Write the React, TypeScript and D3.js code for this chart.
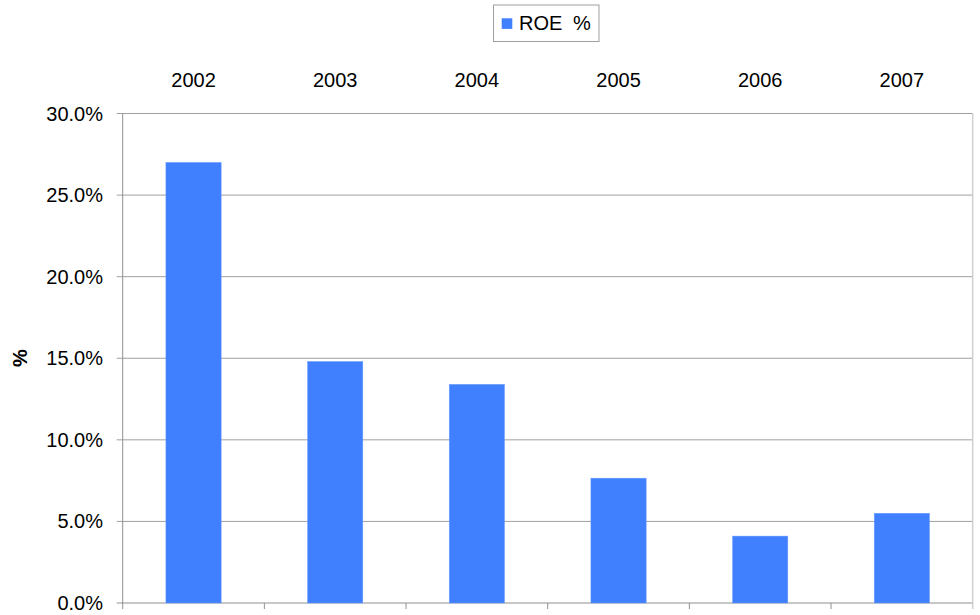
import React from "react";
import * as d3 from "d3";

const categories = ["2002", "2003", "2004", "2005", "2006", "2007"];
const roeValues = [27.0, 14.8, 13.4, 7.65, 4.1, 5.5];
const yTicks = [0, 5, 10, 15, 20, 25, 30];
const seriesName = "ROE %";

export default function App() {
  const W = 980, H = 615;
  const left = 122.7, right = 972.7, top = 113.5, bottom = 603;
  const x = d3.scaleBand<string>().domain(categories).range([left, right]).paddingInner(0.61).paddingOuter(0.305);
  const xb = d3.scaleBand<string>().domain(categories).range([left, right]);
  const y = d3.scaleLinear().domain([0, 30]).range([bottom, top]);
  const font = "'Liberation Sans', Arial, sans-serif";
  const color = "#4080FF";
  const bounds = categories.map((c) => xb(c)!).concat([right]);
  return (
    <svg width={W} height={H} style={{ position: "absolute", left: 0, top: 0 }} fontFamily={font}>
      <rect x={0} y={0} width={W} height={H} fill="#fff" />
      {yTicks.map((t) => (
        <line key={t} x1={left - 6} x2={right} y1={y(t)} y2={y(t)} stroke={t === 0 ? "#909090" : "#a0a0a0"} strokeWidth={1} />
      ))}
      <line x1={right} x2={right} y1={top} y2={bottom + 6} stroke="#d0d0d0" strokeWidth={1.5} />
      {categories.map((c, i) => (
        <rect key={c} x={x(c)} y={y(roeValues[i])} width={x.bandwidth()} height={bottom - y(roeValues[i])} fill={color} stroke="#6a9cff" strokeWidth={0.5} />
      ))}
      <line x1={left} x2={left} y1={top} y2={bottom + 6} stroke="#909090" strokeWidth={1} />
      {bounds.slice(1, -1).map((b, i) => (
        <line key={i} x1={b} x2={b} y1={bottom} y2={bottom + 6} stroke="#909090" strokeWidth={1} />
      ))}
      {yTicks.map((t) => (
        <text key={t} x={103} y={y(t)} dy="0.35em" textAnchor="end" fontSize={20} fill="#000">
          {d3.format(".1f")(t) + "%"}
        </text>
      ))}
      {categories.map((c) => (
        <text key={c} x={xb(c)! + xb.bandwidth() / 2} y={87} textAnchor="middle" fontSize={20} fill="#000">
          {c}
        </text>
      ))}
      <text transform={`translate(27,358) rotate(-90)`} textAnchor="middle" fontSize={20} fontWeight="bold" fill="#000">%</text>
      <rect x={493.5} y={5} width={105.5} height={36.5} fill="#fff" stroke="#a0a0a0" strokeWidth={1} />
      <rect x={501.7} y={18.3} width={10.6} height={10.6} fill={color} />
      <text x={519} y={30} fontSize={20} wordSpacing={5} fill="#000">{seriesName}</text>
    </svg>
  );
}
